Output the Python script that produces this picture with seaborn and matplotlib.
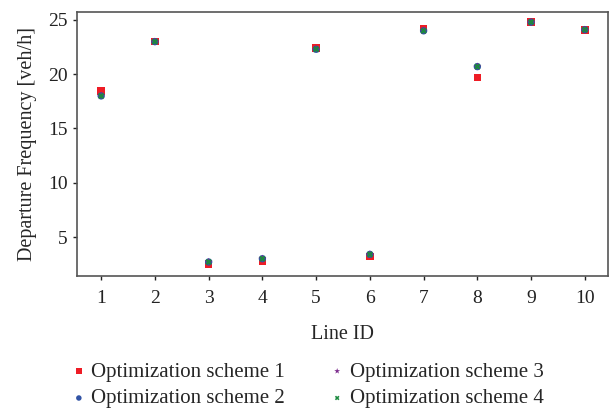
import matplotlib
matplotlib.use("Agg")
import matplotlib.pyplot as plt
import seaborn as sns
import pandas as pd

line_ids = [1, 2, 3, 4, 5, 6, 7, 8, 9, 10]
scheme1 = [18.45, 23.0, 2.5, 2.8, 22.4, 3.2, 24.2, 19.7, 24.8, 24.1]
scheme2 = [18.0, 23.0, 2.7, 3.0, 22.3, 3.4, 24.0, 20.7, 24.8, 24.1]
scheme3 = [18.0, 23.0, 2.7, 3.0, 22.3, 3.4, 24.0, 20.7, 24.8, 24.1]
scheme4 = [18.0, 23.0, 2.7, 3.0, 22.3, 3.4, 24.0, 20.7, 24.8, 24.1]
names = ["Optimization scheme 1", "Optimization scheme 2",
         "Optimization scheme 3", "Optimization scheme 4"]

sns.set_theme(style="white")
plt.rcParams['font.family'] = ['Liberation Serif', 'DejaVu Serif']

fig = plt.figure(figsize=(6.11, 4.11), dpi=100)
ax = fig.add_axes([0.126, 0.328, 0.869, 0.643])

series = [scheme1, scheme2, scheme3, scheme4]
colors = ["#ee1c25", "#3153a5", "#7b2a8c", "#1b8a3f"]
markers = ["s", "o", "*", "X"]
sizes = [30, 28, 35, 20]
for vals, nm, c, m, s in zip(series, names, colors, markers, sizes):
    df = pd.DataFrame({"Line ID": line_ids, "y": vals})
    sns.scatterplot(data=df, x="Line ID", y="y", ax=ax, color=c, marker=m,
                    s=s, edgecolor="none", linewidth=0, label=nm)

ax.set_xlim(0.55, 10.43)
ax.set_ylim(1.39, 25.74)
ax.set_xticks(line_ids)
ax.set_yticks([5, 10, 15, 20, 25])
ax.set_xlabel("Line ID", fontsize=14.5, labelpad=13)
ax.set_ylabel("Departure Frequency [veh/h]", fontsize=14.5, labelpad=8)
for sp in ax.spines.values():
    sp.set_visible(True)
    sp.set_color("#555555")
    sp.set_linewidth(1.2)
ax.tick_params(axis="both", labelsize=14, colors="#222222", length=3,
               width=1, direction="out", bottom=True, left=True)
ax.tick_params(axis="x", pad=7)
for t in ax.get_xticklines() + ax.get_yticklines():
    t.set_color("#555555")

handles, labels = ax.get_legend_handles_labels()
ax.get_legend().remove()
fig.legend(handles, labels, loc="upper left",
           bbox_to_anchor=(0.112, 1 - 362 / 411),
           ncol=2, frameon=False, fontsize=15, handletextpad=0.1,
           columnspacing=2.0, labelspacing=0.35, markerscale=0.75,
           handlelength=1.0, borderaxespad=0, borderpad=0)
fig.savefig("out.png", dpi=100)
